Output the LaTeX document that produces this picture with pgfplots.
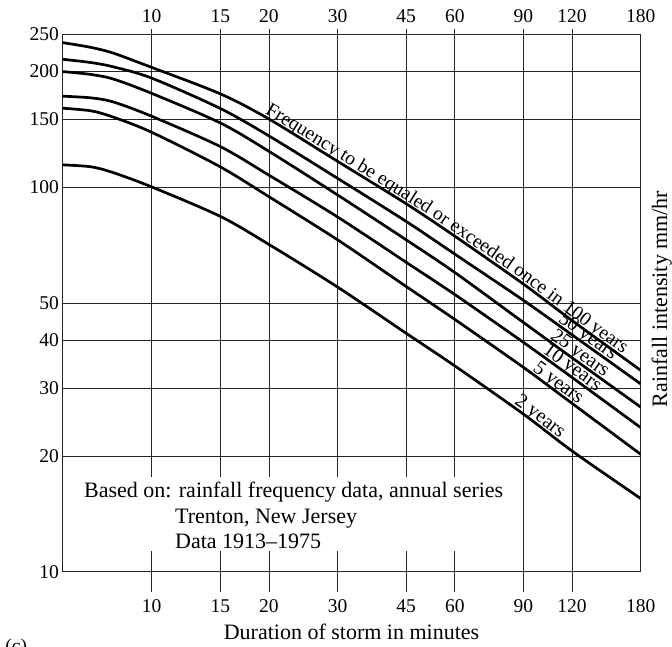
\documentclass[border=0pt]{standalone}
\usepackage{pgfplots}
\pgfplotsset{compat=1.18}
\usepackage{fontspec}
\setmainfont{Liberation Serif}
\usetikzlibrary{calc,decorations.text}
\pgfplotstableread{
x      y100   y50    y25    y10    y5     y2
5.895  237.9  215.3  200.0  172.6  160.6  114.4
7      231.0  211.0  196.5  170.8  158.0  113.0
8      223.0  205.5  191.0  166.5  152.0  109.0
10     205.0  192.3  175.5  153.0  139.0  100.2
15     175.0  160.3  147.0  127.6  113.0  84.0
20     150.5  136.0  124.0  107.5  94.5   71.0
30     116.8  105.5  95.5   83.7   73.0   55.0
45     90.6   81.5   73.0   63.8   55.2   41.7
60     74.6   67.0   60.0   52.6   45.3   34.3
90     56.0   50.8   44.5   39.5   34.0   25.7
120    45.0   41.3   36.0   32.0   27.4   20.6
180    33.4   30.8   26.8   23.7   20.2   15.5
}\rain
\begin{document}
\begin{tikzpicture}[curve/.style={black, line width=2.7pt, smooth, mark=none},
  lbl/.style n args={3}{draw=none, smooth, mark=none, postaction={decorate},
    decoration={text along path, raise=2.8pt, text={|\fontsize{#1}{22}\selectfont|#2},
      text align={right, right indent=#3}}}]
\begin{axis}[
  name=main,
  scale only axis, width=578.4pt, height=537.4pt,
  xmode=log, ymode=log,
  xmin=5.895, xmax=180, ymin=10, ymax=250,
  xtick={10,15,20,30,45,60,90,120},
  xticklabels={10,15,20,30,45,60,90,120},
  extra x ticks={180}, extra x tick labels={180},
  extra x tick style={major tick style={draw=none}},
  xtick pos=left, xticklabel pos=left,
  tick align=outside, major tick length=20pt,
  ytick={10,20,30,40,50,100,150,200,250},
  yticklabels={10,20,30,40,50,100,150,200,250},
  ytick style={draw=none},
  yticklabel style={xshift=20pt},
  xticklabel style={yshift=-4pt},
  grid=major,
  major grid style={black!85, line width=0.9pt},
  tick style={black!85, line width=0.9pt},
  axis line style={black!85, line width=1.2pt},
  tick label style={font=\fontsize{19.5}{22}\selectfont},
  /pgf/number format/assume math mode=true,
]
\addplot[curve] table[x=x, y=y100] {\rain};
\addplot[curve] table[x=x, y=y50] {\rain};
\addplot[curve] table[x=x, y=y25] {\rain};
\addplot[curve] table[x=x, y=y10] {\rain};
\addplot[curve] table[x=x, y=y5] {\rain};
\addplot[curve] table[x=x, y=y2] {\rain};
\addplot[lbl={19.5}{Frequency to be equaled or exceeded once in 100 years}{24pt}] table[x=x, y=y100] {\rain};
\addplot[lbl={20}{50 years}{37pt}] table[x=x, y=y50] {\rain};
\addplot[lbl={20}{25 years}{47pt}] table[x=x, y=y25] {\rain};
\addplot[lbl={20}{10 years}{57pt}] table[x=x, y=y10] {\rain};
\addplot[lbl={20}{5 years}{80pt}] table[x=x, y=y5] {\rain};
\addplot[lbl={20}{2 years}{101pt}] table[x=x, y=y2] {\rain};
\fill[white] ($(rel axis cs:0,0)+(8pt,20.7pt)$) rectangle ($(rel axis cs:0,0)+(447pt,95pt)$);
\path (rel axis cs:0,0) ++(21.7pt,74.4pt) node[anchor=base west, inner sep=0pt, font=\fontsize{22}{25}\selectfont] {Based on: rainfall frequency data, annual series};
\path (rel axis cs:0,0) ++(112.7pt,48.4pt) node[anchor=base west, inner sep=0pt, font=\fontsize{22}{25}\selectfont] {Trenton, New Jersey};
\path (rel axis cs:0,0) ++(112.7pt,23.4pt) node[anchor=base west, inner sep=0pt, font=\fontsize{22}{25}\selectfont] {Data 1913--1975};
\end{axis}
\begin{axis}[
  scale only axis, width=578.4pt, height=537.4pt,
  xmode=log, ymode=log,
  xmin=5.895, xmax=180, ymin=10, ymax=250,
  xtick={10,15,20,30,45,60,90,120},
  xticklabels={10,15,20,30,45,60,90,120},
  extra x ticks={180}, extra x tick labels={180},
  extra x tick style={major tick style={draw=none}},
  xtick pos=right, xticklabel pos=right,
  tick align=outside, major tick length=5pt,
  xticklabel style={yshift=3pt},
  ytick=\empty,
  axis line style={draw=none},
  tick style={black!85, line width=0.9pt},
  tick label style={font=\fontsize{19.5}{22}\selectfont},
  /pgf/number format/assume math mode=true,
]
\end{axis}
\node[font=\fontsize{22}{25}\selectfont] at ($(main.south)+(0,-60pt)$) {Duration of storm in minutes};
\node[rotate=90, font=\fontsize{22}{25}\selectfont] at ($(main.east)+(21pt,4pt)$) {Rainfall intensity mm/hr};
\node[anchor=north west, inner sep=0pt, font=\fontsize{19.5}{22}\selectfont] at ($(main.south west)+(-57pt,-67pt)$) {(c)};
\pgfresetboundingbox
\path[use as bounding box] ($(main.south west)+(-62.3pt,-74.3pt)$) rectangle ($(main.north east)+(31.3pt,34.3pt)$);
\end{tikzpicture}
\end{document}
